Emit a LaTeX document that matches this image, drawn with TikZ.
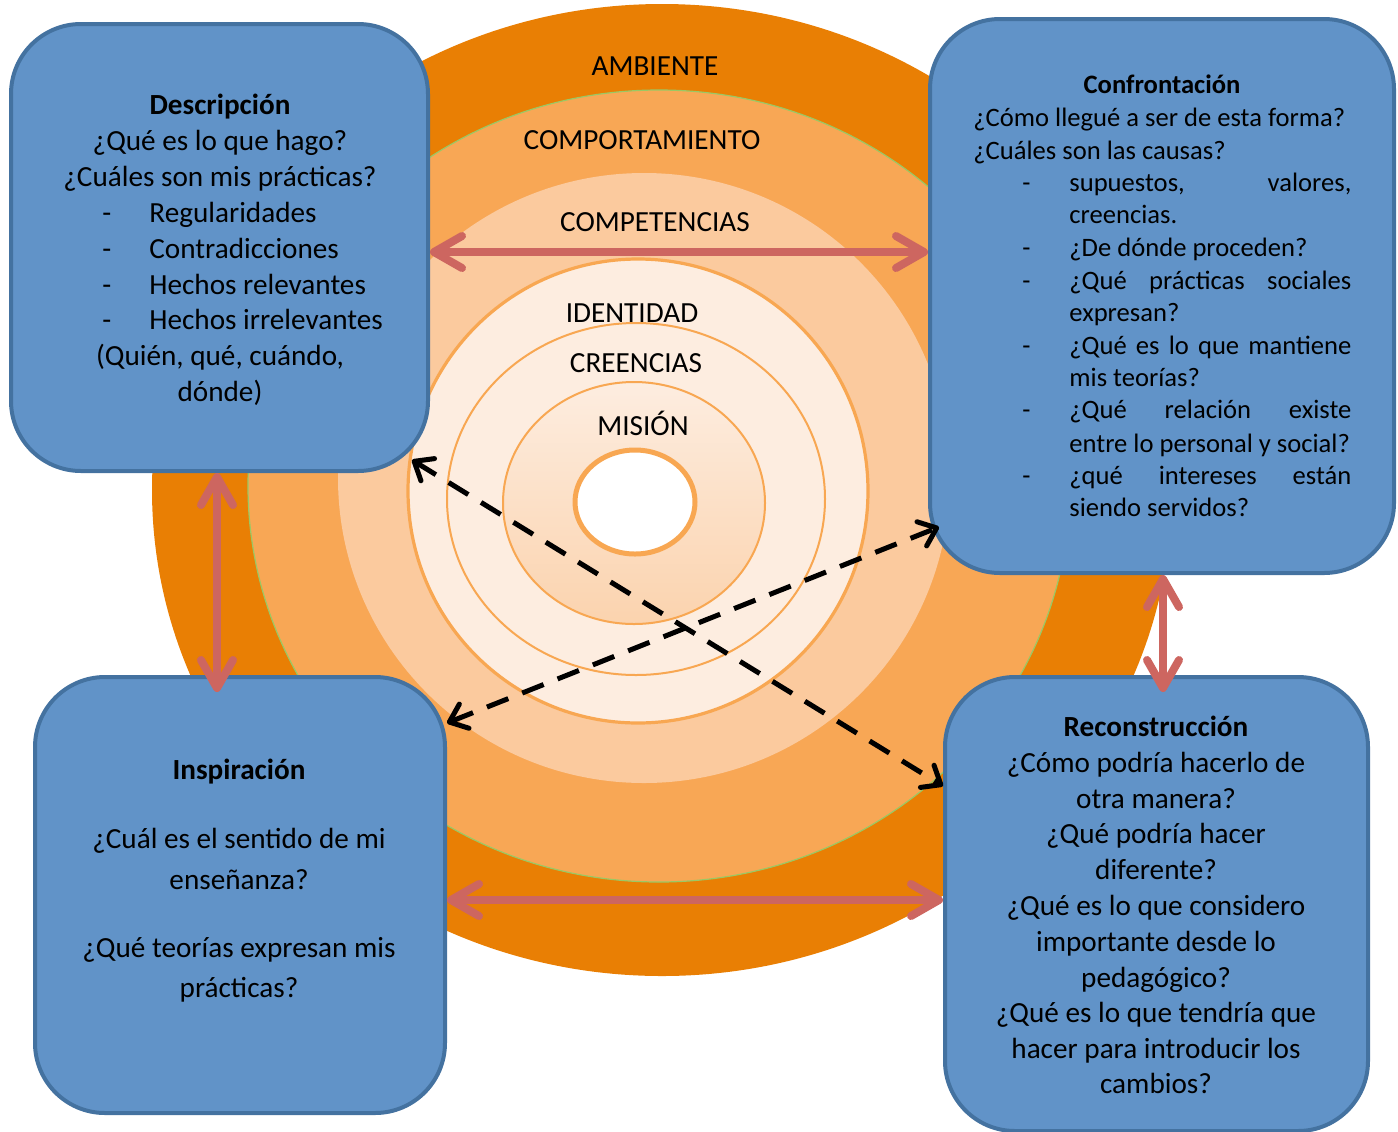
\documentclass[tikz,border=0pt]{standalone}
\usepackage{fontspec}
\setmainfont{Carlito}
\usetikzlibrary{arrows.meta,calc}
\definecolor{ambC}{RGB}{233,127,4}
\definecolor{comC}{RGB}{248,167,85}
\definecolor{cptC}{RGB}{251,202,158}
\definecolor{idC}{RGB}{253,237,224}
\definecolor{misB}{RGB}{251,211,174}
\definecolor{ringL}{RGB}{248,167,82}
\definecolor{boxF}{RGB}{97,147,200}
\definecolor{boxD}{RGB}{68,114,160}
\definecolor{redA}{RGB}{205,102,96}
\definecolor{greenL}{RGB}{155,200,100}
\newcommand{\bigf}{\fontsize{14.6}{18}\selectfont}
\newcommand{\smallf}{\fontsize{13.3}{16.3}\selectfont}
\newcommand{\jline}[1]{\makebox[141pt][s]{#1}}
\begin{document}
\begin{tikzpicture}[x=0.5pt,y=-0.5pt,
  box/.style={draw=boxD, fill=boxF, line width=2pt, rounded corners=35pt, inner sep=0pt},
  txt/.style={inner sep=0pt, anchor=base, font=\bigf},
  ttl/.style={inner sep=0pt, anchor=base, font=\bigf\bfseries},
  ctxt/.style={inner sep=0pt, anchor=base west, font=\smallf},
  ctitle/.style={inner sep=0pt, anchor=base, font=\smallf\bfseries},
  redarrow/.style={draw=redA, line width=4pt, line cap=round,
    >={Straight Barb[length=14pt,width=16pt,round]}, <->},
  dasharrow/.style={draw=black, line width=2.5pt, dash pattern=on 11.5pt off 7.5pt,
    >={Straight Barb[length=8pt,width=13pt,round]}, <->}]
\useasboundingbox (0,0) rectangle (1398,1131);

% concentric rings
\fill[ambC] (662,490) ellipse [x radius=255pt, y radius=243pt];
\draw[greenL, line width=0.6pt, fill=comC] (659,486) ellipse [x radius=205.5pt, y radius=198pt];
\fill[cptC] (644,478) ellipse [x radius=153pt, y radius=152.5pt];
\draw[ringL, line width=1.6pt, fill=idC] (638,491) ellipse [x radius=115pt, y radius=116pt];
\draw[ringL, line width=1pt, fill=idC] (636,499) ellipse [x radius=94.5pt, y radius=88pt];
\draw[ringL, line width=1pt, top color=idC, bottom color=misB] (634,503) ellipse [x radius=65.5pt, y radius=60.5pt];
\draw[ringL, line width=2.5pt, fill=white] (635,502) ellipse [x radius=30pt, y radius=26pt];

\node[txt] (lamb) at (655,75) {AMBIENTE};
\node[txt] (lcom) at (642,149) {COMPORTAMIENTO};
\node[txt] (lcpt) at (655,231) {COMPETENCIAS};
\node[txt] (lid) at (632,322) {IDENTIDAD};
\node[txt] (lcre) at (636,372) {CREENCIAS};
\node[txt] (lmis) at (643,435) {MISIÓN};

% boxes
\node[box, minimum width=208.5pt, minimum height=223.5pt] (desc) at (219.5,247.5) {};
\node[box, minimum width=232pt, minimum height=277pt] (conf) at (1162,296) {};
\node[box, minimum width=205pt, minimum height=218pt] (insp) at (240,895) {};
\node[box, minimum width=211.5pt, minimum height=227pt] (reco) at (1156.5,904) {};

% Descripcion text
\node[ttl] (dT) at (220,114) {Descripción};
\node[txt] (d1) at (220,150) {¿Qué es lo que hago?};
\node[txt] (d2) at (220,186) {¿Cuáles son mis prácticas?};
\foreach \yy/\tt [count=\i] in {222/Regularidades, 258/Contradicciones, 294/Hechos relevantes, 329/Hechos irrelevantes}{
  \node[txt, anchor=base west] (dd\i) at (102,\yy) {-};
  \node[txt, anchor=base west] (db\i) at (149,\yy) {\tt};
}
\node[txt] (d3) at (220,365) {(Quién, qué, cuándo,};
\node[txt] (d4) at (220,401) {dónde)};

% Confrontacion text
\node[ctitle] (cT) at (1162,93) {Confrontación};
\node[ctxt] (c1) at (973,126) {¿Cómo llegué a ser de esta forma?};
\node[ctxt] (c2) at (973,159) {¿Cuáles son las causas?};
\foreach \yy in {191,256,289,354,418,484}{
  \node[ctxt] (cd\yy) at (1022,\yy) {-};
}
\node[ctxt] (c3) at (1069,191) {\jline{supuestos, valores,}};
\node[ctxt] (c4) at (1069,223) {creencias.};
\node[ctxt] (c5) at (1069,256) {¿De dónde proceden?};
\node[ctxt] (c6) at (1069,289) {\jline{¿Qué prácticas sociales}};
\node[ctxt] (c7) at (1069,321) {expresan?};
\node[ctxt] (c8) at (1069,354) {\jline{¿Qué es lo que mantiene}};
\node[ctxt] (c9) at (1069,386) {mis teorías?};
\node[ctxt] (c10) at (1069,418) {\jline{¿Qué relación existe}};
\node[ctxt] (c11) at (1069,452) {entre lo personal y social?};
\node[ctxt] (c12) at (1069,484) {\jline{¿qué intereses están}};
\node[ctxt] (c13) at (1069,516) {siendo servidos?};

% Inspiracion text
\node[ttl] (iT) at (239,779) {Inspiración};
\node[txt] (i1) at (239,848) {¿Cuál es el sentido de mi};
\node[txt] (i2) at (239,889) {enseñanza?};
\node[txt] (i3) at (239,957) {¿Qué teorías expresan mis};
\node[txt] (i4) at (239,997) {prácticas?};

% Reconstruccion text
\node[ttl] (rT) at (1156,736) {Reconstrucción};
\foreach \yy/\tt [count=\i] in {772/¿Cómo podría hacerlo de, 808/otra manera?, 843/¿Qué podría hacer, 879/diferente?, 915/¿Qué es lo que considero, 951/importante desde lo, 987/pedagógico?, 1022/¿Qué es lo que tendría que, 1058/hacer para introducir los, 1093/cambios?}{
  \node[txt] (r\i) at (1156,\yy) {\tt};
}

% red double arrows
\draw[redarrow] (desc.east |- 0,252) -- (conf.west |- 0,252);
\draw[redarrow] (insp.east |- 0,900) -- (reco.west |- 0,900);
\draw[redarrow] (desc.south -| 217,0) -- ($(insp.north -| 217,0)+(0,17)$);
\draw[redarrow] (conf.south -| 1163,0) -- ($(reco.north -| 1163,0)+(0,17)$);

% dashed crossing arrows
\coordinate (dTip) at ($(desc.south east)+(-18,-13)$);
\coordinate (cTip) at ($(conf.south west)+(11,-48)$);
\draw[dasharrow] (dTip) -- (reco.west |- 0,786);
\draw[dasharrow] (insp.east |- 0,723) -- (cTip);
\end{tikzpicture}
\end{document}
